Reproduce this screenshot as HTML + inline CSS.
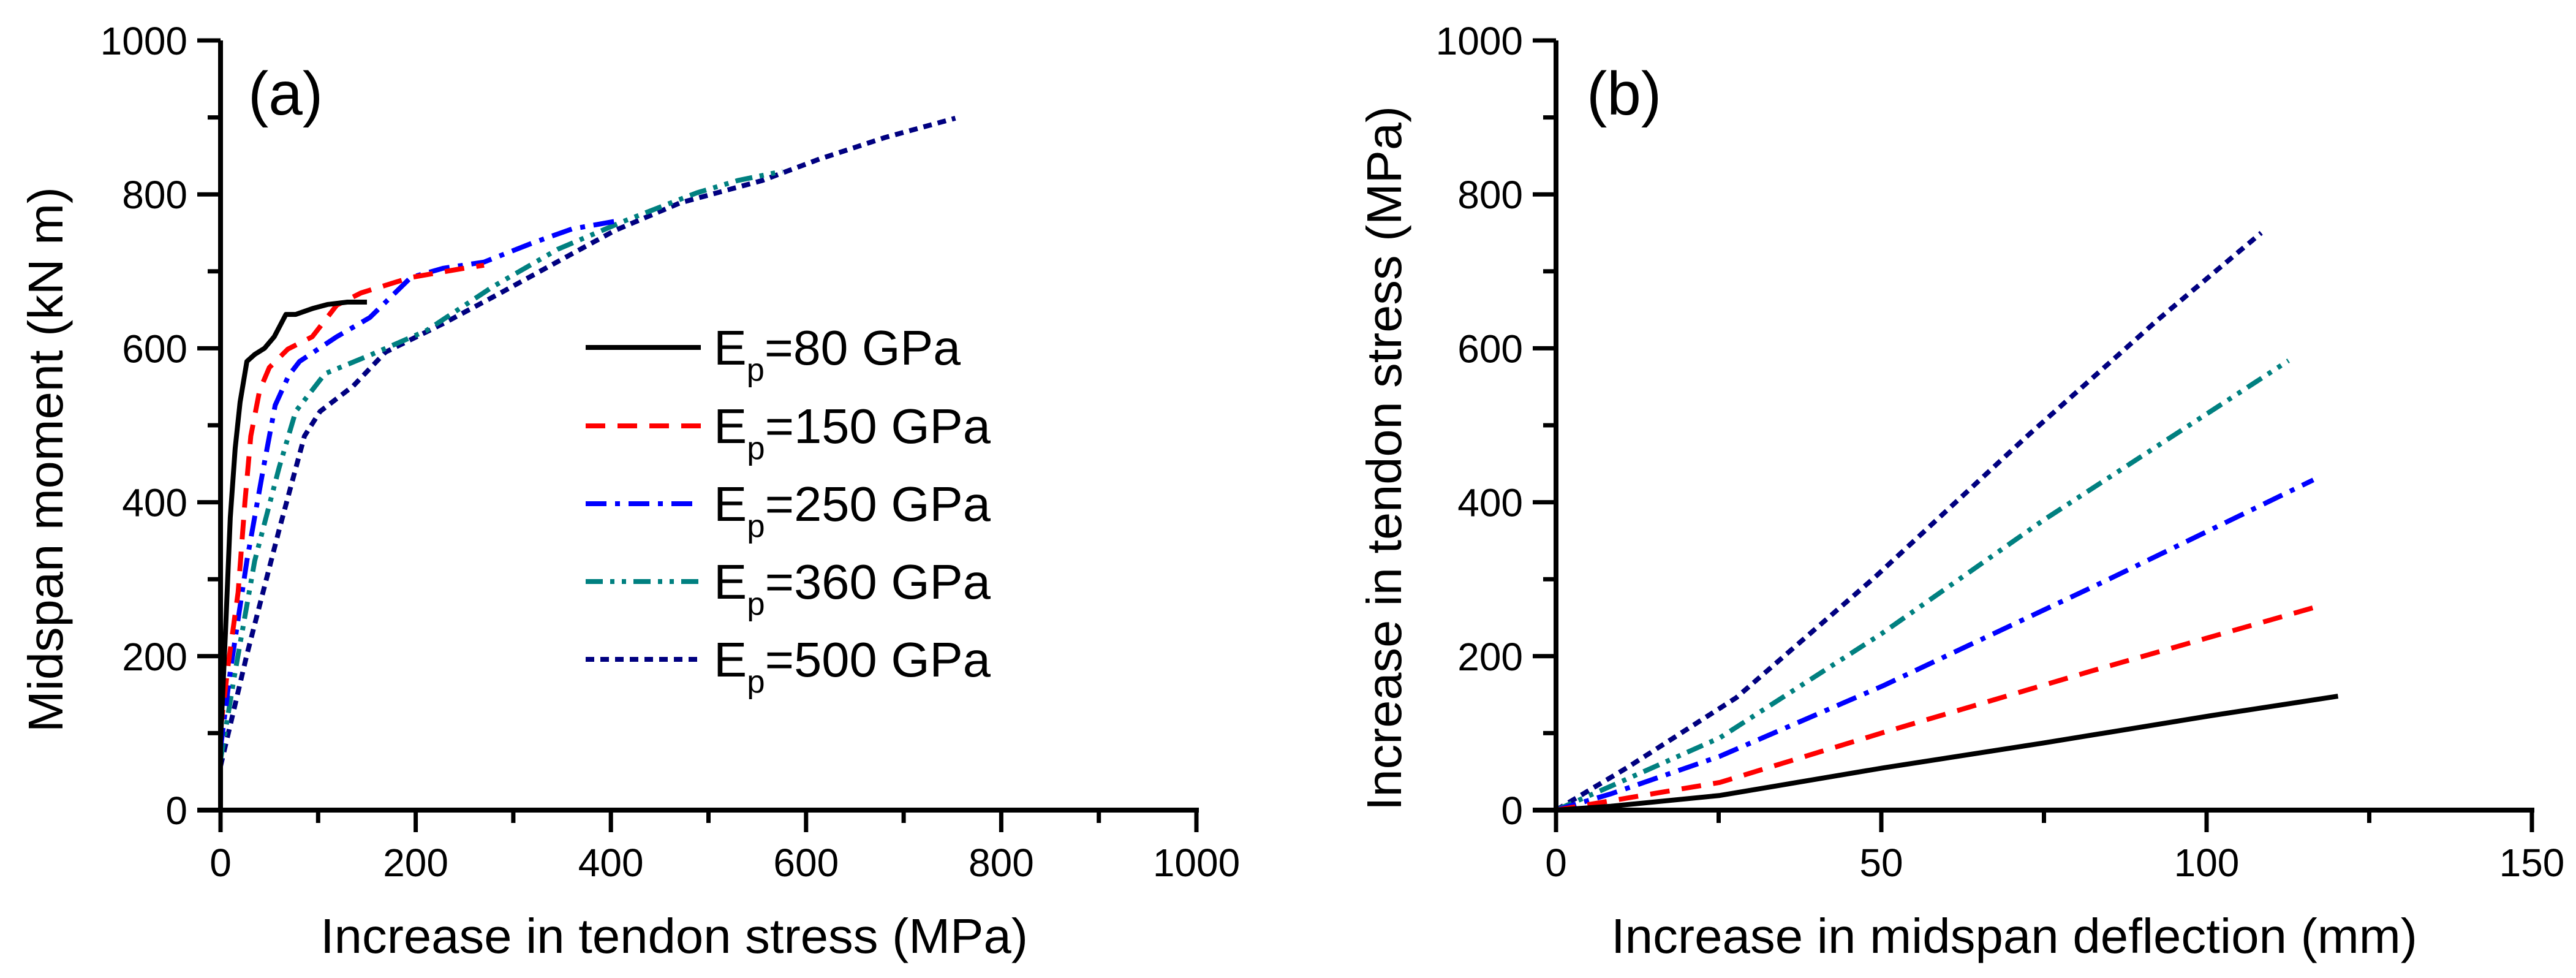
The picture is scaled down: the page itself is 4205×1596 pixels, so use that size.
<!DOCTYPE html>
<html><head><meta charset="utf-8"><style>
html,body{margin:0;padding:0;background:#fff;}
svg{display:block;font-family:"Liberation Sans",Arial,sans-serif;}
</style></head><body>
<svg id="chart" width="4205" height="1596" viewBox="0 0 4205 1596" xmlns="http://www.w3.org/2000/svg">
<rect width="4205" height="1596" fill="#fff"/>
<g id="pa"></g>
<g id="pb"></g>
</svg>
<script>
const seriesNames = ["Ep=80 GPa","Ep=150 GPa","Ep=250 GPa","Ep=360 GPa","Ep=500 GPa"];
const seriesLabelNum = ["80","150","250","360","500"];
// Panel (a): x = tendon stress increase (MPa), y = midspan moment (kN m)
const a80x  = [0,5,10,15,20,27,35,45,55,67,77,95,110,130,150];
const a80y  = [90,230,380,470,530,583,592,600,615,644,644,652,657,660,660];
const a150x = [0,8,18,25,31,40,50,69,94,119,144,195,245,270];
const a150y = [105,190,283,400,486,545,575,599,615,656,672,692,703,708];
const a250x = [0,10,27,44,56,70,81,119,153,195,228,270,320,360,404];
const a250y = [80,180,324,445,526,565,583,615,640,692,704,712,737,755,765];
const a360x = [0,15,35,60,77,107,153,211,279,346,413,488,530,576];
const a360y = [65,180,324,445,518,567,591,623,680,729,765,802,818,830];
const a500x = [0,27,60,86,102,136,169,228,287,346,404,471,555,614,681,753];
const a500y = [57,202,364,486,518,551,595,632,672,713,753,789,818,846,874,899];
// Panel (b): x = midspan deflection (mm), y = tendon stress increase (MPa)
const b80x  = [0,8.4,25.2,50.4,74.8,100.9,120.2];
const b80y  = [0,5,19,55,87,123,148];
const b150x = [0,8.4,25.2,50.4,82.4,118.1];
const b150y = [0,12,36,101,181,267];
const b250x = [0,8.4,25.2,50.4,84,116.4];
const b250y = [0,21,70,162,296,429];
const b360x = [0,8.4,25.2,50,74.8,112.6];
const b360y = [0,31,94,229,376,584];
const b500x = [0,10.9,27.7,48.8,72.3,92.5,108.4];
const b500y = [0,55,146,301,485,637,750];
const aXTicks = [0,200,400,600,800,1000];
const aYTicks = [0,200,400,600,800,1000];
const bXTicks = [0,50,100,150];
const bYTicks = [0,200,400,600,800,1000];

const NS="http://www.w3.org/2000/svg";
const colors=["#000000","#ff0000","#0000ff","#008080","#000080"];
const dashes=["none","32 20","34 14 8 14","28 12 7 12 7 12","14 10"];
const Y0=1322, H=1256, W=1593;
function mk(tag,attrs,parent){const e=document.createElementNS(NS,tag);for(const k in attrs)e.setAttribute(k,attrs[k]);parent.appendChild(e);return e;}

function panel(g,x0,xmax,xTicks,xMinorStep,yTicks,xs,ys,xTitle,yTitle,label,xTitleX,xTitleLen,yTitleX,yTitleLen,yTitleC,labelX){
  const sx=v=>x0+v/xmax*W, sy=v=>Y0-v/1000*H;
  for(let i=4;i>=0;i--){
    const pts=xs[i].map((v,j)=>sx(v).toFixed(1)+","+sy(ys[i][j]).toFixed(1)).join(" ");
    const p=mk("polyline",{points:pts,fill:"none",stroke:colors[i],"stroke-width":8,"stroke-dasharray":dashes[i],"stroke-linejoin":"round"},g);
    
    
  }
  const ax=mk("g",{},g);
  
  
  mk("line",{x1:x0,y1:sy(1000),x2:x0,y2:Y0,stroke:"#000","stroke-width":8},ax);
  mk("line",{x1:x0-38,y1:Y0,x2:x0+W+4,y2:Y0,stroke:"#000","stroke-width":8},ax);
  for(let v=0;v<=1000;v+=100){
    const major=v%200===0;
    mk("line",{x1:x0-(major?38:21),y1:sy(v),x2:x0,y2:sy(v),stroke:"#000","stroke-width":7},ax);
  }
  yTicks.forEach(v=>{
    const t=mk("text",{x:x0-54,y:sy(v)+23,"font-size":64,"text-anchor":"end"},ax);
    t.textContent=v;
    
    
  });
  for(let v=0;v<=xmax+1e-9;v+=xMinorStep){
    const major=xTicks.some(t=>Math.abs(t-v)<1e-9);
    mk("line",{x1:sx(v),y1:Y0,x2:sx(v),y2:Y0+(major?36:21),stroke:"#000","stroke-width":7},ax);
  }
  xTicks.forEach(v=>{
    const t=mk("text",{x:sx(v),y:1430,"font-size":64,"text-anchor":"middle"},ax);
    t.textContent=v;
    
    
  });
  const xt=mk("text",{x:xTitleX,y:1555,"font-size":80,textLength:xTitleLen,lengthAdjust:"spacingAndGlyphs"},g);
  xt.textContent=xTitle;
  
  
  const yt=mk("text",{x:0,y:0,"font-size":80,"text-anchor":"middle",textLength:yTitleLen,lengthAdjust:"spacingAndGlyphs",transform:`translate(${yTitleX},${yTitleC}) rotate(-90)`},g);
  yt.textContent=yTitle;
  
  
  const pl=mk("text",{x:labelX,y:187,"font-size":100},g);
  pl.textContent=label;
  
  
}
const pa=document.getElementById("pa"), pb=document.getElementById("pb");
panel(pa,360,1000,aXTicks,100,aYTicks,[a80x,a150x,a250x,a360x,a500x],[a80y,a150y,a250y,a360y,a500y],
  "Increase in tendon stress (MPa)","Midspan moment (kN m)","(a)",523,1155,102,890,750,405);
panel(pb,2540,150,bXTicks,25,bYTicks,[b80x,b150x,b250x,b360x,b500x],[b80y,b150y,b250y,b360y,b500y],
  "Increase in midspan deflection (mm)","Increase in tendon stress (MPa)","(b)",2630,1316,2287,1150,748,2590);

const lg=mk("g",{},pa);


const rows=[567,695,822,949,1076];
for(let i=0;i<5;i++){
  const e=mk("g",{},lg);
  
  
  mk("line",{x1:956,y1:rows[i],x2:1144,y2:rows[i],stroke:colors[i],"stroke-width":8,"stroke-dasharray":dashes[i]},e);
  const t=mk("text",{x:1165,y:rows[i]+28,"font-size":80,textLength:(i===0?403:452),lengthAdjust:"spacingAndGlyphs"},e);
  t.innerHTML='E<tspan font-size="52" dy="26">p</tspan><tspan dy="-26">='+seriesLabelNum[i]+' GPa</tspan>';
}
</script>
</body></html>
